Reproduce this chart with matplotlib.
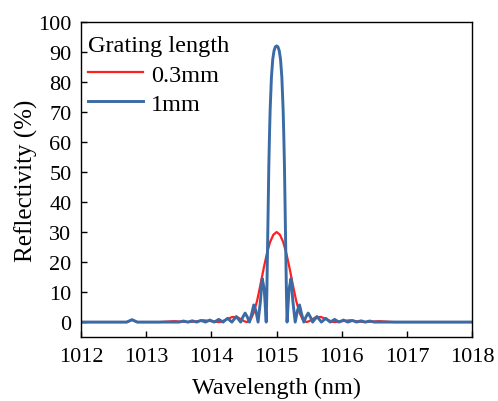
import matplotlib.pyplot as plt

plt.rcParams['font.family'] = ['Liberation Serif', 'DejaVu Serif']

# 0.3 mm grating
wl_short = [1012.0, 1012.7, 1012.78, 1012.86, 1013.2, 1013.43, 1013.65, 1013.75,
            1013.875, 1014.0, 1014.1, 1014.15, 1014.25, 1014.32, 1014.4, 1014.5,
            1014.543, 1014.6, 1014.65, 1014.7, 1014.75, 1014.8, 1014.85, 1014.9,
            1014.95, 1015.0, 1015.05, 1015.1, 1015.15, 1015.2, 1015.25, 1015.3,
            1015.35, 1015.4, 1015.457, 1015.5, 1015.6, 1015.68, 1015.75, 1015.85,
            1015.9, 1016.0, 1016.125, 1016.25, 1016.35, 1016.57, 1016.8, 1018.0]
R_short = [0.0, 0.0, 0.7, 0.0, 0.0, 0.3, 0.0, 0.2,
           0.6, 0.3, 0.0, 0.1, 1.1, 1.7, 1.6, 0.3,
           0.0, 0.8, 3.2, 7.1, 12.3, 17.8, 22.8, 26.7,
           29.1, 30.0, 29.1, 26.7, 22.8, 17.8, 12.3, 7.1,
           3.2, 0.8, 0.0, 0.3, 1.6, 1.7, 1.1, 0.1,
           0.0, 0.3, 0.6, 0.2, 0.0, 0.3, 0.0, 0.0]

# 1 mm grating
wl_long = [1012.0, 1012.7, 1012.78, 1012.86, 1013.503, 1013.57, 1013.638, 1013.705,
           1013.773, 1013.84, 1013.908, 1013.975, 1014.043, 1014.111, 1014.178,
           1014.246, 1014.313, 1014.381, 1014.448, 1014.48, 1014.516, 1014.55,
           1014.583, 1014.62, 1014.649, 1014.68, 1014.715, 1014.75, 1014.779,
           1014.81, 1014.84, 1014.85, 1014.86, 1014.87, 1014.88, 1014.89, 1014.9,
           1014.92, 1014.94, 1014.96, 1014.98, 1015.0, 1015.02, 1015.04, 1015.06,
           1015.08, 1015.1, 1015.11, 1015.12, 1015.13, 1015.14, 1015.15, 1015.16,
           1015.19, 1015.221, 1015.25, 1015.285, 1015.32, 1015.351, 1015.38,
           1015.417, 1015.45, 1015.484, 1015.52, 1015.552, 1015.619, 1015.687,
           1015.754, 1015.822, 1015.889, 1015.957, 1016.025, 1016.092, 1016.16,
           1016.227, 1016.295, 1016.362, 1016.43, 1016.497, 1018.0]
R_long = [0.0, 0.0, 0.8, 0.0, 0.0, 0.35, 0.0, 0.42,
          0.0, 0.53, 0.0, 0.67, 0.0, 0.89, 0.0,
          1.24, 0.0, 1.85, 0.0, 1.6, 3.0, 1.7,
          0.0, 3.0, 5.7, 3.9, 0.0, 6.7, 14.5,
          10.9, 0.0, 10.0, 24.0, 38.0, 52.0, 62.0, 70.5,
          81.5, 87.5, 90.4, 91.7, 92.0, 91.7, 90.4, 87.5,
          81.5, 70.5, 62.0, 52.0, 38.0, 24.0, 10.0, 0.0,
          10.9, 14.5, 6.7, 0.0, 3.9, 5.7, 3.0,
          0.0, 1.7, 3.0, 1.6, 0.0, 1.85, 0.0,
          1.24, 0.0, 0.89, 0.0, 0.67, 0.0, 0.53,
          0.0, 0.42, 0.0, 0.35, 0.0, 0.0]

fig = plt.figure(figsize=(4.98, 4.02), dpi=100)
ax = fig.add_axes([0.163, 0.159, 0.785, 0.784])

ax.plot(wl_short, R_short, color='#FF2020', lw=1.6, label='0.3mm')
ax.plot(wl_long, R_long, color='#3A6BA5', lw=2.1, label='1mm')

ax.set_xlim(1012, 1018)
ax.set_ylim(-5, 100)
ax.set_xticks(range(1012, 1019))
ax.set_yticks(range(0, 101, 10))
ax.tick_params(direction='in', length=4, width=1, labelsize=16, pad=7)
for s in ax.spines.values():
    s.set_linewidth(1)

ax.set_xlabel('Wavelength (nm)', fontsize=17.5, labelpad=8)
ax.set_ylabel('Reflectivity (%)', fontsize=18, labelpad=0)

leg = ax.legend(title='Grating length', loc='upper left', frameon=False,
                bbox_to_anchor=(-0.018, 1.0),
                fontsize=17.5, title_fontsize=17.5, alignment='left',
                handlelength=2.3, handletextpad=0.3, labelspacing=0.3,
                borderaxespad=0.35, borderpad=0.2)

fig.savefig('out.png', dpi=100)
